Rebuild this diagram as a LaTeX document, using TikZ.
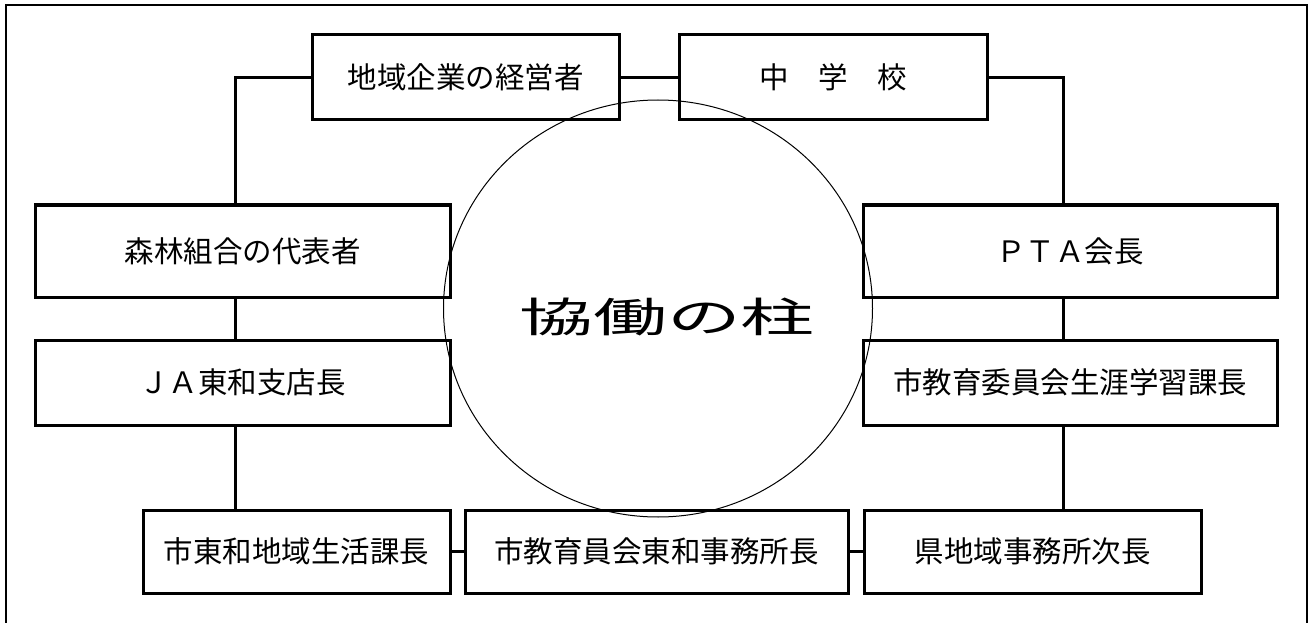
\documentclass[tikz,border=0pt]{standalone}
\usepackage{fontspec}
\newfontfamily\jp{Noto Sans CJK JP}
\usetikzlibrary{shapes.geometric}
\tikzset{
  box/.style={draw, line width=3pt, rectangle, inner sep=0pt, font=\jp\fontsize{29.5}{32}\selectfont},
  link/.style={line width=3pt},
  frame/.style={line width=2pt},
}
\begin{document}
\begin{tikzpicture}[x=1pt,y=-1pt]
\useasboundingbox (0,0) rectangle (1310,623);
\draw[frame] (6,630) -- (6,5) -- (1307,5) -- (1307,630);
% circle
\node[draw, ellipse, line width=1pt, minimum width=429pt, minimum height=417pt, inner sep=0pt] (circ) at (658,308.5) {};
\node[font=\jp\fontsize{41}{48}\selectfont] (title) at (667,317) {\scalebox{1.8}[1]{協働の柱}};
% boxes
\node[box, minimum width=307pt, minimum height=85pt] (b1) at (465.5,77.5) {地域企業の経営者};
\node[box, minimum width=308pt, minimum height=85pt] (b2) at (833,77.5) {中　学　校};
\node[box, minimum width=415pt, minimum height=92pt] (l1) at (242.5,251) {森林組合の代表者};
\node[box, minimum width=415pt, minimum height=85pt] (l2) at (242.5,382.5) {ＪＡ東和支店長};
\node[box, minimum width=414pt, minimum height=92pt] (r1) at (1070,251) {ＰＴＡ会長};
\node[box, minimum width=414pt, minimum height=85pt] (r2) at (1070,382.5) {市教育委員会生涯学習課長};
\node[box, minimum width=307pt, minimum height=83pt] (d1) at (296.5,551.5) {市東和地域生活課長};
\node[box, minimum width=383pt, minimum height=83pt] (d2) at (656.5,551.5) {市教育員会東和事務所長};
\node[box, minimum width=337pt, minimum height=83pt] (d3) at (1032.5,551.5) {県地域事務所次長};
% connectors
\coordinate (cl) at (235,0);
\coordinate (cr) at (1063,0);
\draw[link] (b1.west) -| (l1.north -| cl);
\draw[link] (b1.east) -- (b2.west);
\draw[link] (b2.east) -| (r1.north -| cr);
\draw[link] (l1.south -| cl) -- (l2.north -| cl);
\draw[link] (l2.south -| cl) -- (d1.north -| cl);
\draw[link] (r1.south -| cr) -- (r2.north -| cr);
\draw[link] (r2.south -| cr) -- (d3.north -| cr);
\draw[link] (d1.east) -- (d2.west);
\draw[link] (d2.east) -- (d3.west);
\end{tikzpicture}
\end{document}
